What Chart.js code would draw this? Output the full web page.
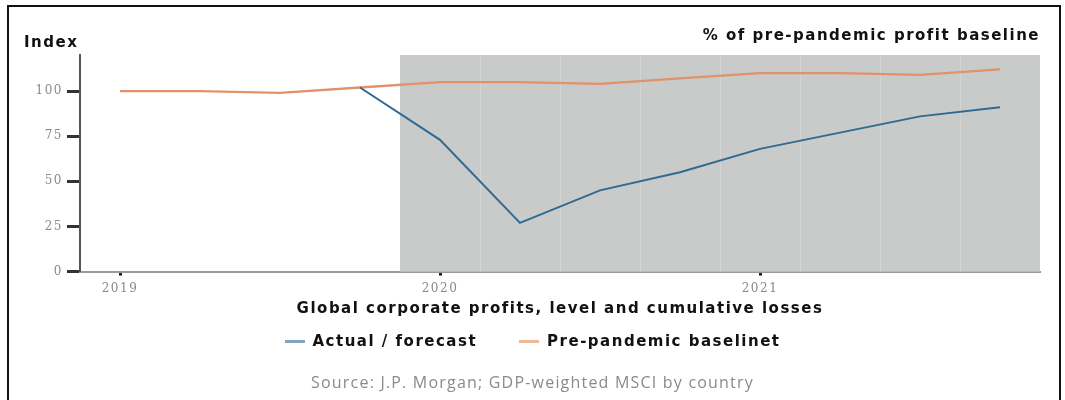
<!DOCTYPE html>
<html>
<head>
<meta charset="utf-8">
<script src="https://cdn.jsdelivr.net/npm/chart.js@4/dist/chart.umd.min.js"></script>
<style>
  body { margin: 0; background: #fff; }
  #wrap { position: relative; width: 1065px; height: 400px; }
  #frame { position: absolute; left: 7px; top: 5px; width: 1054px; height: 420px;
           border: 2px solid #111; box-sizing: border-box; pointer-events: none; }
  #legend { position: absolute; left: 0; width: 1065px; top: 332px; display: flex;
            justify-content: center; gap: 42px; font: bold 15px "DejaVu Sans"; letter-spacing: 1.5px; color: #111; }
  #legend span.item { display: flex; align-items: center; }
  #legend span.dash { display: inline-block; width: 20px; height: 3px; margin-right: 8px; }
  #source { position: absolute; left: 0; width: 1065px; top: 371px; text-align: center;
            font: 16px "Open Sans"; letter-spacing: 1.2px; color: #8a8a8a; }
</style>
</head>
<body>
<div id="wrap">
  <canvas id="myChart" width="1065" height="400"></canvas>
  <div id="frame"></div>
  <div id="legend"></div>
  <div id="source">Source: J.P. Morgan; GDP-weighted MSCI by country</div>
</div>
<script>
// quarterly points, x in years
const quarters = [2019, 2019.25, 2019.5, 2019.75, 2020, 2020.25, 2020.5, 2020.75, 2021, 2021.25, 2021.5, 2021.75];
const baseline = [100, 100, 99, 102, 105, 105, 104, 107, 110, 110, 109, 112];
const actual = [null, null, null, 102, 73, 27, 45, 55, 68, 77, 86, 91];
const yearTicks = [2019, 2020, 2021];
const indexTicks = [0, 25, 50, 75, 100];
const shadeFrom = 2019.875;
const shadeTo = 2021.875;

const blue = '#2f6a93';
const orange = '#e0936a';

const toPoints = values => quarters.map((q, i) => ({ x: q, y: values[i] }));

// the source font is wide, so spread the canvas text a little
const spacing = chart => { chart.ctx.letterSpacing = '1.5px'; };

const shadePlugin = {
  id: 'shade',
  beforeUpdate: spacing,
  beforeLayout: spacing,
  beforeDraw: spacing,
  beforeDatasetsDraw(chart) {
    const { ctx, chartArea, scales } = chart;
    const x0 = scales.x.getPixelForValue(shadeFrom);
    const x1 = scales.x.getPixelForValue(shadeTo);
    ctx.save();
    ctx.fillStyle = '#c9caca';
    ctx.fillRect(x0, chartArea.top, x1 - x0, chartArea.bottom - chartArea.top);
    // faint quarter dividers inside the shaded block
    ctx.strokeStyle = '#d3d4d4';
    ctx.lineWidth = 1;
    for (let q = shadeFrom + 0.25; q < shadeTo; q += 0.25) {
      const px = Math.round(scales.x.getPixelForValue(q)) + 0.5;
      ctx.beginPath();
      ctx.moveTo(px, chartArea.top);
      ctx.lineTo(px, chartArea.bottom);
      ctx.stroke();
    }
    ctx.restore();
  },
  afterDraw(chart) {
    const { ctx } = chart;
    ctx.save();
    ctx.font = 'bold 15px "DejaVu Sans"';
    ctx.fillStyle = '#111';
    ctx.textBaseline = 'middle';
    ctx.fillText('Index', 24, 43);
    ctx.restore();
  }
};

const chart = new Chart(document.getElementById('myChart'), {
  type: 'line',
  data: {
    datasets: [{
      label: 'Actual / forecast',
      data: toPoints(actual),
      borderColor: blue,
      backgroundColor: '#7ea6c2',
      borderWidth: 2,
      pointRadius: 0,
      tension: 0
    },
    {
      label: 'Pre-pandemic baselinet',
      data: toPoints(baseline),
      borderColor: orange,
      backgroundColor: '#f0b896',
      borderWidth: 2.3,
      pointRadius: 0,
      tension: 0
    }]
  },
  options: {
    responsive: false,
    animation: false,
    layout: { padding: { left: 0, right: 25, top: 0, bottom: 83 } },
    plugins: {
      legend: { display: false },
      tooltip: { enabled: false },
      title: {
        display: true,
        text: '% of pre-pandemic profit baseline',
        align: 'end',
        color: '#111',
        font: { family: 'DejaVu Sans', size: 15, weight: 'bold', lineHeight: 1.2 },
        padding: { top: 27, bottom: 10 }
      }
    },
    scales: {
      x: {
        type: 'linear',
        min: 2018.875,
        max: 2021.875,
        afterBuildTicks: scale => { scale.ticks = yearTicks.map(v => ({ value: v })); },
        grid: { drawOnChartArea: false, drawTicks: true, tickLength: 4, tickWidth: 3, tickColor: '#222' },
        border: { color: '#9a9a9a', width: 2 },
        ticks: {
          color: '#8a8a8a',
          padding: 6,
          font: { family: 'DejaVu Serif', size: 12 },
          callback: v => String(v)
        },
        title: {
          display: true,
          text: 'Global corporate profits, level and cumulative losses',
          color: '#111',
          font: { family: 'DejaVu Sans', size: 15, weight: 'bold', lineHeight: 1 },
          padding: { top: 0, bottom: 0 }
        }
      },
      y: {
        min: 0,
        max: 120,
        afterBuildTicks: scale => { scale.ticks = indexTicks.map(v => ({ value: v })); },
        afterFit: scale => { scale.width = 80; },
        grid: { drawOnChartArea: false, drawTicks: true, tickLength: 13, tickWidth: 3, tickColor: '#333' },
        border: { color: '#555', width: 2 },
        ticks: {
          color: '#8a8a8a',
          padding: 4,
          font: { family: 'DejaVu Serif', size: 12 }
        }
      }
    }
  },
  plugins: [shadePlugin]
});

// html legend built from the chart's datasets
const legend = document.getElementById('legend');
chart.data.datasets.forEach(ds => {
  const item = document.createElement('span');
  item.className = 'item';
  const dash = document.createElement('span');
  dash.className = 'dash';
  dash.style.background = ds.backgroundColor;
  item.appendChild(dash);
  item.appendChild(document.createTextNode(ds.label));
  legend.appendChild(item);
});
</script>
</body>
</html>
